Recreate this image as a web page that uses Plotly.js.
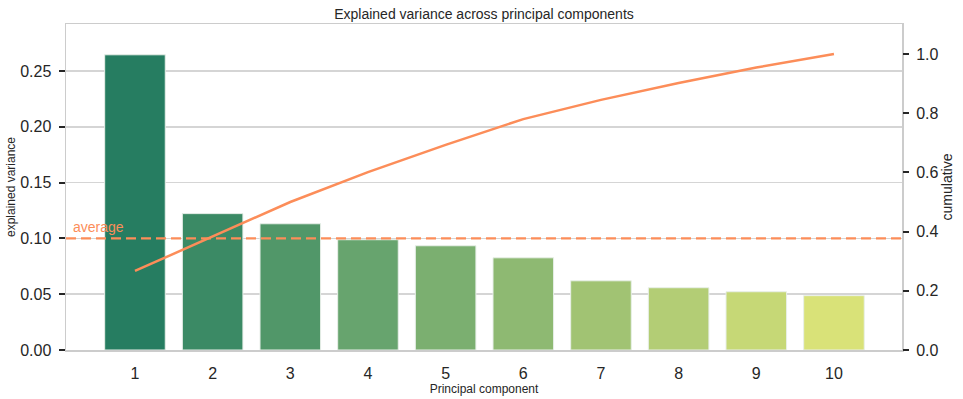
<!DOCTYPE html>
<html>
<head>
<meta charset="utf-8">
<script src="https://cdn.plot.ly/plotly-3.0.1.min.js"></script>
<style>html,body{margin:0;padding:0;background:#fff;}#chart{width:963px;height:399px;}</style>
</head>
<body>
<div id="chart"></div>
<script>
const components = [1, 2, 3, 4, 5, 6, 7, 8, 9, 10];
const tickLabels = ['1', '2', '3', '4', '5', '6', '7', '8', '9', '10'];
const explainedVariance = [0.2645, 0.1222, 0.1131, 0.0988, 0.0934, 0.0826, 0.0620, 0.0558, 0.0522, 0.0487];
const cumulative = [0.267, 0.384, 0.500, 0.601, 0.693, 0.780, 0.845, 0.902, 0.954, 1.000];
const averageValue = 0.1;

const barColors = ['rgb(38,125,97)', 'rgb(59,138,101)', 'rgb(81,151,105)', 'rgb(103,164,110)', 'rgb(123,175,112)',
                   'rgb(142,185,114)', 'rgb(161,195,115)', 'rgb(179,205,117)', 'rgb(198,216,118)', 'rgb(217,226,120)'];
const accent = '#FC8D59';
const textColor = '#262626';
const font = 'Liberation Sans, Arial, sans-serif';

const traces = [
  {
    type: 'bar', x: components, y: explainedVariance, width: 0.78,
    marker: {color: barColors, line: {color: '#e8efe9', width: 1}},
    hoverinfo: 'none', showlegend: false, xaxis: 'x', yaxis: 'y'
  },
  {
    type: 'scatter', mode: 'lines', x: components, y: cumulative,
    line: {color: accent, width: 2.5}, showlegend: false, xaxis: 'x', yaxis: 'y2'
  }
];

const layout = {
  width: 963, height: 399,
  margin: {l: 66, r: 61, t: 24, b: 49},
  paper_bgcolor: '#fff', plot_bgcolor: '#fff',
  font: {family: font, color: textColor},
  title: {text: 'Explained variance across principal components', font: {size: 14, color: textColor},
          x: 0.5, xref: 'paper', y: 0.965, yref: 'container', yanchor: 'middle'},
  xaxis: {
    range: [0.112, 10.876], tickvals: components, ticktext: tickLabels,
    showgrid: false, zeroline: false, ticks: '', ticklabelstandoff: 8,
    tickfont: {size: 16, color: textColor},
    showline: true, mirror: true, linecolor: '#cccccc', linewidth: 1.5,
    title: {text: 'Principal component', font: {size: 12, color: textColor}, standoff: 1}
  },
  yaxis: {
    range: [0, 0.2921], tickvals: [0, 0.05, 0.10, 0.15, 0.20, 0.25], tickformat: '.2f',
    showgrid: true, gridcolor: '#d5d5d5', gridwidth: 1.5, zeroline: false,
    ticks: 'outside', ticklen: 6, tickwidth: 2, tickcolor: textColor, ticklabelstandoff: 4,
    tickfont: {size: 16, color: textColor},
    showline: true, mirror: true, linecolor: '#cccccc', linewidth: 1.5,
    title: {text: 'explained variance', font: {size: 12, color: textColor}, standoff: 2}
  },
  yaxis2: {
    overlaying: 'y', side: 'right', range: [0, 1.1013],
    tickvals: [0, 0.2, 0.4, 0.6, 0.8, 1.0], tickformat: '.1f',
    showgrid: false, zeroline: false,
    ticks: 'outside', ticklen: 6, tickwidth: 2, tickcolor: textColor, ticklabelstandoff: 4,
    tickfont: {size: 16, color: textColor},
    title: {text: 'cumulative', font: {size: 14, color: textColor}, standoff: 4}
  },
  shapes: [
    {type: 'line', xref: 'paper', x0: 0, x1: 1, yref: 'y', y0: averageValue, y1: averageValue,
     line: {color: accent, width: 2.2, dash: '10px,5px'}, layer: 'above'}
  ],
  annotations: [
    {text: 'average', xref: 'paper', x: 0.006, xanchor: 'left', yref: 'y', y: averageValue, yanchor: 'bottom',
     yshift: 1, showarrow: false, font: {size: 14, color: accent}}
  ]
};

Plotly.newPlot('chart', traces, layout, {displayModeBar: false, staticPlot: true});
</script>
</body>
</html>
